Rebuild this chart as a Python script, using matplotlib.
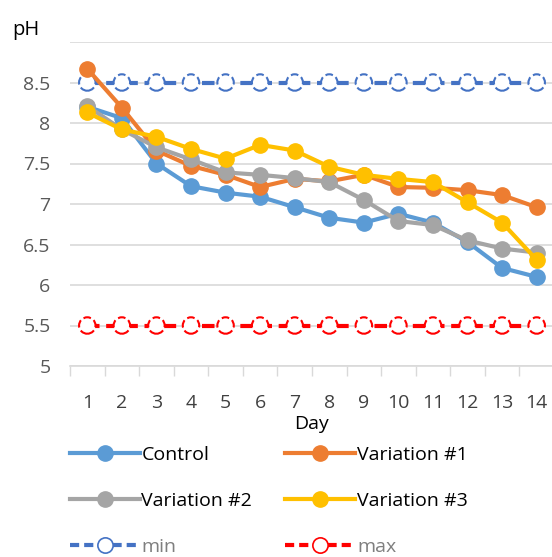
import numpy as np
import matplotlib.pyplot as plt
from matplotlib.lines import Line2D

plt.rcParams['font.family'] = ['Open Sans', 'DejaVu Sans']

#%% data

days = np.arange(1, 15)
day_labels = [str(d) for d in days]

control = [8.20, 8.06, 7.50, 7.22, 7.14, 7.09, 6.96, 6.83, 6.77, 6.88, 6.77, 6.53, 6.21, 6.10]
variation1 = [8.67, 8.19, 7.66, 7.47, 7.36, 7.21, 7.31, 7.28, 7.36, 7.21, 7.20, 7.17, 7.11, 6.96]
variation2 = [8.21, 7.92, 7.70, 7.55, 7.39, 7.36, 7.32, 7.27, 7.05, 6.79, 6.74, 6.55, 6.45, 6.40]
variation3 = [8.13, 7.92, 7.83, 7.68, 7.56, 7.73, 7.66, 7.46, 7.36, 7.31, 7.27, 7.02, 6.77, 6.31]
ph_min = [8.5] * 14
ph_max = [5.5] * 14

series = [
    ('Control', control, '#5B9BD5'),
    ('Variation #1', variation1, '#ED7D31'),
    ('Variation #2', variation2, '#A5A5A5'),
    ('Variation #3', variation3, '#FFC000'),
]
limits = [('min', ph_min, '#4472C4'), ('max', ph_max, '#FF0000')]

#%% plot

fig = plt.figure(figsize=(5.52, 5.57), dpi=100)
ax = fig.add_axes([70/552, 1 - 366/557, 484/552, 324/557])

handles = {}
for name, vals, col in limits:
    ax.plot(days, vals, color=col, lw=3, ls=(0, (3, 1.6)), zorder=2)
    ax.scatter(days, vals, s=140, facecolors='white', edgecolors=col,
               linewidths=1.5, linestyles='--', zorder=3)
    handles[name] = Line2D([], [], color=col, lw=3, ls=(0, (2.2, 1.2)),
                           marker='o', ms=11, mfc='white', mec=col, mew=1.2)

for name, vals, col in series:
    h, = ax.plot(days, vals, color=col, lw=3, marker='o', ms=11, zorder=4)
    handles[name] = h

ax.set_xlim(0.5, 14.5)
ax.set_ylim(5, 9)
ax.set_yticks(np.arange(5, 9.01, 0.5))
ax.set_yticklabels(['5', '5.5', '6', '6.5', '7', '7.5', '8', '8.5', ''])
ax.set_xticks(days)
ax.set_xticklabels(day_labels)
ax.set_xticks(np.arange(0.5, 14.6, 1), minor=True)
ax.tick_params(axis='x', which='major', length=0, pad=20, labelsize=14, colors='#404040')
ax.tick_params(axis='x', which='minor', length=7, color='#D9D9D9', width=1)
ax.tick_params(axis='y', length=0, pad=14, labelsize=14, colors='#595959')
ax.grid(axis='y', color='#D9D9D9', lw=1.2)
ax.set_axisbelow(True)
for s in ['top', 'right', 'left']:
    ax.spines[s].set_visible(False)
ax.spines['bottom'].set_color('#D9D9D9')
ax.spines['bottom'].set_linewidth(1.2)

ax.set_xlabel('Day', fontsize=14, labelpad=2, color='#000000')
fig.text(12/552, 1 - 30/557, 'pH', fontsize=14.5, va='center', ha='left')

order = ['Control', 'Variation #2', 'min', 'Variation #1', 'Variation #3', 'max']
leg = fig.legend([handles[k] for k in order], order, ncol=2, frameon=False,
                 loc='upper left', bbox_to_anchor=(52/552, 1 - 428/557),
                 fontsize=14, handlelength=3.6, handletextpad=0.1,
                 columnspacing=1.7, labelspacing=1.45)
for t in leg.get_texts():
    if t.get_text() in ('min', 'max'):
        t.set_color('#7F7F7F')

plt.savefig('out.png', dpi=100)
